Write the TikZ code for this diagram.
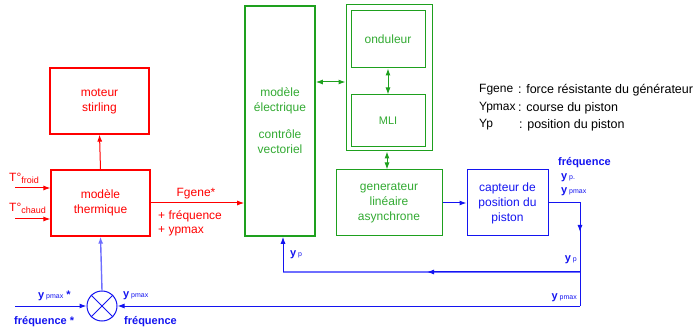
\documentclass[tikz,border=0pt]{standalone}
\usepackage{fontspec}
\setmainfont{Liberation Sans}
\usetikzlibrary{arrows.meta}
\definecolor{rd}{RGB}{255,0,0}
\definecolor{gn}{RGB}{30,160,30}
\definecolor{gnt}{RGB}{50,170,50}
\definecolor{bl}{RGB}{20,20,240}
\definecolor{lbl}{RGB}{110,110,255}
\tikzset{
  rbox/.style={draw=rd,line width=1.2pt,text=rd,align=center,font=\fontsize{12}{15}\selectfont,inner sep=0pt},
  gbox/.style={draw=gn,line width=1.1pt,text=gnt,align=center,font=\fontsize{12}{15}\selectfont,inner sep=0pt},
  bbox/.style={draw=bl,line width=1pt,text=bl,align=center,font=\fontsize{12}{15}\selectfont,inner sep=0pt},
  arr/.style={-{Latex[length=7pt,width=5pt]}},
  darr/.style={{Latex[length=7pt,width=5pt]}-{Latex[length=7pt,width=5pt]}},
  rtxt/.style={text=rd,font=\fontsize{12}{14}\selectfont,inner sep=0pt},
  btxt/.style={text=bl,font=\fontsize{11}{13}\selectfont\bfseries,inner sep=0pt},
  ltxt/.style={font=\fontsize{12}{14}\selectfont,inner sep=0pt,anchor=west},
  ltxtb/.style={font=\fontsize{12.5}{14}\selectfont,inner sep=0pt,anchor=west},
}
\newcommand{\ysub}[1]{\textbf{y}\,{\fontsize{7}{8}\selectfont\mdseries #1}}
\begin{document}
\begin{tikzpicture}[x=1pt,y=-1pt]
\useasboundingbox (0,0) rectangle (695,328);
% red boxes
\node[rbox,minimum width=99pt,minimum height=66pt] (mot) at (99.5,101) {moteur\\stirling};
\node[rbox,minimum width=99pt,minimum height=66pt] (therm) at (100.5,203) {modèle\\thermique};
% green
\node[gbox,line width=1.6pt,minimum width=70pt,minimum height=230pt] (elec) at (280,121) {modèle\\électrique\\[12pt]contrôle\\vectoriel};
\node[draw=gn,line width=1pt,minimum width=86pt,minimum height=146pt,inner sep=0pt] (outer) at (389,78) {};
\node[gbox,line width=1pt,minimum width=74pt,minimum height=57pt] (ond) at (388,39.5) {onduleur};
\node[gbox,line width=1pt,minimum width=74pt,minimum height=52pt,font=\fontsize{11}{13}\selectfont] (mli) at (388,121) {MLI};
\node[gbox,line width=1pt,minimum width=106pt,minimum height=66pt] (gen) at (389,203) {generateur\\linéaire\\asynchrone};
% blue
\node[bbox,minimum width=81pt,minimum height=66pt] (cap) at (507.5,203) {capteur de\\position du\\piston};
\node[draw=bl,circle,line width=1pt,minimum size=30pt,inner sep=0pt] (circ) at (102,306) {};
\draw[bl,line width=1pt] (circ.north east) -- (circ.south west) (circ.north west) -- (circ.south east);
% red connectors
\draw[rd,line width=1pt,arr] (therm.north) -- (mot.south);
\coordinate (fr) at (15,188);
\coordinate (ch) at (15,219);
\draw[rd,line width=1pt,arr] (fr) -- (fr -| therm.west);
\draw[rd,line width=1pt,arr] (ch) -- (ch -| therm.west);
\draw[rd,line width=1pt,arr] (therm.east) -- (therm.east -| elec.west);
\node[rtxt,anchor=west] (tfr) at (9,178) {T°{\fontsize{9}{10}\selectfont\raisebox{-2pt}{froid}}};
\node[rtxt,anchor=west] (tch) at (9,208) {T°{\fontsize{9}{10}\selectfont\raisebox{-2pt}{chaud}}};
\node[rtxt] (fg) at (196,194) {Fgene*};
\node[rtxt,anchor=west] (pf) at (158,216) {+ fréquence};
\node[rtxt,anchor=west] (py) at (158,231) {+ ypmax};
% green connectors
\coordinate (ea) at (330,82);
\draw[gn,line width=1pt,darr] (elec.east |- ea) -- (outer.west |- ea);
\draw[gn,line width=1pt,darr] (ond.south) -- (mli.north);
\draw[gn,line width=1pt,darr] ([xshift=-2pt]outer.south) -- ([xshift=-2pt]gen.north);
% blue connectors
\draw[bl,line width=1pt,arr] (gen.east) -- (cap.west);
\coordinate (c1) at (580,203);
\coordinate (c2) at (580,272);
\coordinate (c3) at (580,306);
\coordinate (c4) at (283,272);
\coordinate (in) at (15,306);
\draw[bl,line width=1pt] (cap.east) -- (c1) -- (c3);
\draw[bl,line width=1pt,arr] (c1) -- ([yshift=-29pt]c1);
\draw[lbl,line width=1.2pt] (c2) -- (c4);
\draw[bl,line width=1pt,arr] (c2) -- ([xshift=-153pt]c2);
\draw[bl,line width=1pt,arr] (c4) -- (c4 |- elec.south);
\draw[bl,line width=1pt,arr] (c3) -- (circ.east);
\draw[bl,line width=1pt,arr] (in) -- (circ.west);
\draw[lbl,line width=1.4pt,arr] (circ.north) -- (therm.south);
% blue labels
\node[btxt,anchor=west] (l1) at (38,296) {\ysub{pmax} *};
\node[btxt,anchor=west] (l2) at (14,322) {fréquence *};
\node[btxt,anchor=west] (l3) at (123,296) {\ysub{pmax}};
\node[btxt,anchor=west] (l4) at (124,322) {fréquence};
\node[btxt,anchor=west] (l5) at (290,255) {\ysub{p}};
\node[btxt,anchor=east] (l6) at (577,260) {\ysub{p}};
\node[btxt,anchor=east] (l7) at (577,298) {\ysub{pmax}};
\node[btxt,anchor=west] (l8) at (558,163) {fréquence};
\node[btxt,anchor=west] (l9) at (561,178) {\ysub{p.}};
\node[btxt,anchor=west] (l10) at (561,192) {\ysub{pmax}};
% legend
\node[ltxt] (g1) at (479,90) {Fgene};
\node[ltxt] (g2) at (479,108) {Ypmax};
\node[ltxt] (g3) at (479,125) {Yp};
\node[ltxtb] (h1) at (518,90) {: force résistante du générateur};
\node[ltxtb] (h2) at (518,108) {: course du piston};
\node[ltxtb] (h3) at (519,125) {: position du piston};
\end{tikzpicture}
\end{document}
